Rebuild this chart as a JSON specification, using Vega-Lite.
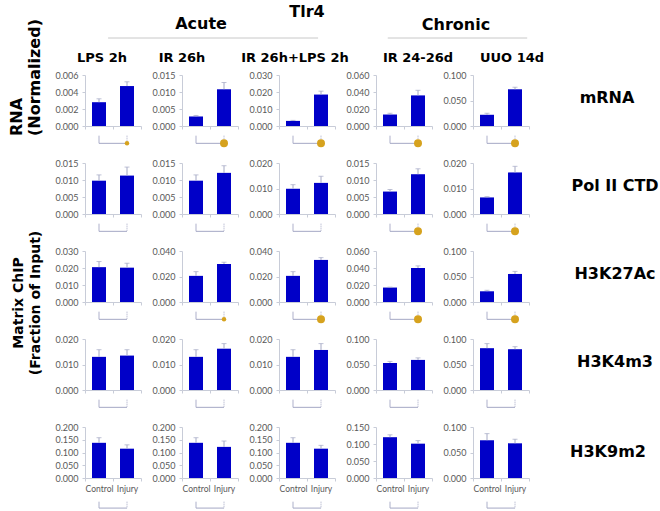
{
"$schema":"https://vega.github.io/schema/vega-lite/v6.json",
"padding":{"left":0,"top":4,"right":0,"bottom":0},
"columns":7,
"bounds":"flush",
"align":"each",
"spacing":{"row":37,"column":41},
"data":{"name":"d"},
"datasets":{"d":[
{"p":"11","g":"Control","v":0.0028,"e":0.0032,"s":0},{"p":"11","g":"Injury","v":0.0047,"e":0.0052,"s":1},
{"p":"12","g":"Control","v":0.0028,"e":0.0031,"s":0},{"p":"12","g":"Injury","v":0.0108,"e":0.0128,"s":2},
{"p":"13","g":"Control","v":0.003,"e":0.0033,"s":0},{"p":"13","g":"Injury","v":0.0185,"e":0.0205,"s":2},
{"p":"14","g":"Control","v":0.0135,"e":0.015,"s":0},{"p":"14","g":"Injury","v":0.036,"e":0.042,"s":2},
{"p":"15","g":"Control","v":0.022,"e":0.025,"s":0},{"p":"15","g":"Injury","v":0.072,"e":0.076,"s":2},
{"p":"21","g":"Control","v":0.0098,"e":0.0115,"s":0},{"p":"21","g":"Injury","v":0.0113,"e":0.0138,"s":0},
{"p":"22","g":"Control","v":0.0098,"e":0.0115,"s":0},{"p":"22","g":"Injury","v":0.0121,"e":0.0142,"s":0},
{"p":"23","g":"Control","v":0.0099,"e":0.0115,"s":0},{"p":"23","g":"Injury","v":0.0122,"e":0.0148,"s":0},
{"p":"24","g":"Control","v":0.0066,"e":0.0072,"s":0},{"p":"24","g":"Injury","v":0.0117,"e":0.0133,"s":2},
{"p":"25","g":"Control","v":0.0065,"e":0.0068,"s":0},{"p":"25","g":"Injury","v":0.0163,"e":0.0187,"s":2},
{"p":"31","g":"Control","v":0.0205,"e":0.0238,"s":0},{"p":"31","g":"Injury","v":0.0202,"e":0.0228,"s":0},
{"p":"32","g":"Control","v":0.0205,"e":0.0238,"s":0},{"p":"32","g":"Injury","v":0.0298,"e":0.0312,"s":1},
{"p":"33","g":"Control","v":0.0205,"e":0.0238,"s":0},{"p":"33","g":"Injury","v":0.033,"e":0.0348,"s":2},
{"p":"34","g":"Control","v":0.017,"e":0.0175,"s":0},{"p":"34","g":"Injury","v":0.04,"e":0.0425,"s":2},
{"p":"35","g":"Control","v":0.021,"e":0.023,"s":0},{"p":"35","g":"Injury","v":0.055,"e":0.06,"s":2},
{"p":"41","g":"Control","v":0.013,"e":0.0158,"s":0},{"p":"41","g":"Injury","v":0.0135,"e":0.0158,"s":0},
{"p":"42","g":"Control","v":0.013,"e":0.0158,"s":0},{"p":"42","g":"Injury","v":0.0162,"e":0.0182,"s":0},
{"p":"43","g":"Control","v":0.013,"e":0.0158,"s":0},{"p":"43","g":"Injury","v":0.0157,"e":0.0182,"s":0},
{"p":"44","g":"Control","v":0.053,"e":0.056,"s":0},{"p":"44","g":"Injury","v":0.059,"e":0.063,"s":0},
{"p":"45","g":"Control","v":0.082,"e":0.091,"s":0},{"p":"45","g":"Injury","v":0.08,"e":0.085,"s":0},
{"p":"51","g":"Control","v":0.138,"e":0.158,"s":0},{"p":"51","g":"Injury","v":0.115,"e":0.13,"s":0},
{"p":"52","g":"Control","v":0.138,"e":0.158,"s":0},{"p":"52","g":"Injury","v":0.122,"e":0.145,"s":0},
{"p":"53","g":"Control","v":0.138,"e":0.158,"s":0},{"p":"53","g":"Injury","v":0.115,"e":0.128,"s":0},
{"p":"54","g":"Control","v":0.12,"e":0.127,"s":0},{"p":"54","g":"Injury","v":0.101,"e":0.11,"s":0},
{"p":"55","g":"Control","v":0.074,"e":0.087,"s":0},{"p":"55","g":"Injury","v":0.068,"e":0.076,"s":0}
]},
"concat":[
{"width":44,"height":1,"data":{"values":[]},"mark":"point","encoding":{}},
{"width":56,"height":1,"data":{"values":[]},"mark":"point","encoding":{}},
{"width":56,"height":1,"title":{"text":"Acute","fontSize":16,"dx":-9,"offset":5},"data":{"values":[{"k":0}]},"mark":{"type":"rule","color":"#c8c8c8"},"encoding":{"x":{"datum":-1.32,"type":"quantitative","scale":{"domain":[0,1]},"axis":null},"x2":{"datum":2.43},"y":{"datum":0,"type":"quantitative","scale":{"domain":[0,1]},"axis":null}}},
{"width":56,"height":1,"title":{"text":"Tlr4","fontSize":16,"offset":17},"data":{"values":[]},"mark":"point","encoding":{}},
{"width":56,"height":1,"title":{"text":"Chronic","fontSize":16,"dx":52,"offset":4},"data":{"values":[{"k":0}]},"mark":{"type":"rule","color":"#c8c8c8"},"encoding":{"x":{"datum":0.21,"type":"quantitative","scale":{"domain":[0,1]},"axis":null},"x2":{"datum":2.7},"y":{"datum":0,"type":"quantitative","scale":{"domain":[0,1]},"axis":null}}},
{"width":56,"height":1,"data":{"values":[]},"mark":"point","encoding":{}},
{"width":90,"height":1,"data":{"values":[]},"mark":"point","encoding":{}},

{"width":44,"height":51,"data":{"values":[{"t":"RNA\n(Normalized)"}]},"mark":{"type":"text","font":"DejaVu Sans","fontWeight":"bold","fontSize":16,"angle":270,"align":"left","baseline":"middle","lineBreak":"\n","lineHeight":18,"dx":-35.5,"dy":-4.75},"encoding":{"text":{"field":"t"}}},
{"width":56,"height":51,"title":{"text":"LPS 2h","dx":-11},"transform":[{"filter":"datum.p=='11'"}],"encoding":{"x":{"field":"g","type":"nominal","title":null,"scale":{"paddingInner":0,"paddingOuter":0},"axis":{"labels":false}},"y":{"field":"v","type":"quantitative","title":null,"scale":{"domain":[0,0.006],"nice":false},"axis":{"values":[0,0.002,0.004,0.006],"format":".3f"}}},"layer":[{"mark":{"type":"bar","size":14}},{"mark":"rule","encoding":{"y2":{"field":"e"}}},{"mark":{"type":"tick","size":5,"thickness":1},"encoding":{"y":{"field":"e","type":"quantitative","title":null,"scale":{"domain":[0,0.006],"nice":false}}}},{"mark":"rule","encoding":{"y":{"datum":-0.00114,"type":"quantitative","title":null,"scale":{"domain":[0,0.006],"nice":false}},"y2":{"datum":-0.00204},"strokeDash":{"condition":{"test":"datum.g=='Injury'","value":[1,1]},"value":[1,0]}}},{"mark":"line","encoding":{"y":{"datum":-0.00204,"type":"quantitative","title":null,"scale":{"domain":[0,0.006],"nice":false}}}},{"mark":"point","transform":[{"filter":"datum.s>0"}],"encoding":{"y":{"datum":-0.00204,"type":"quantitative","title":null,"scale":{"domain":[0,0.006],"nice":false}},"size":{"field":"s","type":"quantitative","scale":{"domain":[1,2],"range":[20,64]},"legend":null}}}]},
{"width":56,"height":51,"title":{"text":"IR 26h","dx":-28},"transform":[{"filter":"datum.p=='12'"}],"encoding":{"x":{"field":"g","type":"nominal","title":null,"scale":{"paddingInner":0,"paddingOuter":0},"axis":{"labels":false}},"y":{"field":"v","type":"quantitative","title":null,"scale":{"domain":[0,0.015],"nice":false},"axis":{"values":[0,0.005,0.01,0.015],"format":".3f"}}},"layer":[{"mark":{"type":"bar","size":14}},{"mark":"rule","encoding":{"y2":{"field":"e"}}},{"mark":{"type":"tick","size":5,"thickness":1},"encoding":{"y":{"field":"e","type":"quantitative","title":null,"scale":{"domain":[0,0.015],"nice":false}}}},{"mark":"rule","encoding":{"y":{"datum":-0.00285,"type":"quantitative","title":null,"scale":{"domain":[0,0.015],"nice":false}},"y2":{"datum":-0.0051},"strokeDash":{"condition":{"test":"datum.g=='Injury'","value":[1,1]},"value":[1,0]}}},{"mark":"line","encoding":{"y":{"datum":-0.0051,"type":"quantitative","title":null,"scale":{"domain":[0,0.015],"nice":false}}}},{"mark":"point","transform":[{"filter":"datum.s>0"}],"encoding":{"y":{"datum":-0.0051,"type":"quantitative","title":null,"scale":{"domain":[0,0.015],"nice":false}},"size":{"field":"s","type":"quantitative","scale":{"domain":[1,2],"range":[20,64]},"legend":null}}}]},
{"width":56,"height":51,"title":{"text":"IR 26h+LPS 2h","dx":-12},"transform":[{"filter":"datum.p=='13'"}],"encoding":{"x":{"field":"g","type":"nominal","title":null,"scale":{"paddingInner":0,"paddingOuter":0},"axis":{"labels":false}},"y":{"field":"v","type":"quantitative","title":null,"scale":{"domain":[0,0.03],"nice":false},"axis":{"values":[0,0.01,0.02,0.03],"format":".3f"}}},"layer":[{"mark":{"type":"bar","size":14}},{"mark":"rule","encoding":{"y2":{"field":"e"}}},{"mark":{"type":"tick","size":5,"thickness":1},"encoding":{"y":{"field":"e","type":"quantitative","title":null,"scale":{"domain":[0,0.03],"nice":false}}}},{"mark":"rule","encoding":{"y":{"datum":-0.0057,"type":"quantitative","title":null,"scale":{"domain":[0,0.03],"nice":false}},"y2":{"datum":-0.0102},"strokeDash":{"condition":{"test":"datum.g=='Injury'","value":[1,1]},"value":[1,0]}}},{"mark":"line","encoding":{"y":{"datum":-0.0102,"type":"quantitative","title":null,"scale":{"domain":[0,0.03],"nice":false}}}},{"mark":"point","transform":[{"filter":"datum.s>0"}],"encoding":{"y":{"datum":-0.0102,"type":"quantitative","title":null,"scale":{"domain":[0,0.03],"nice":false}},"size":{"field":"s","type":"quantitative","scale":{"domain":[1,2],"range":[20,64]},"legend":null}}}]},
{"width":56,"height":51,"title":{"text":"IR 24-26d","dx":14},"transform":[{"filter":"datum.p=='14'"}],"encoding":{"x":{"field":"g","type":"nominal","title":null,"scale":{"paddingInner":0,"paddingOuter":0},"axis":{"labels":false}},"y":{"field":"v","type":"quantitative","title":null,"scale":{"domain":[0,0.06],"nice":false},"axis":{"values":[0,0.02,0.04,0.06],"format":".3f"}}},"layer":[{"mark":{"type":"bar","size":14}},{"mark":"rule","encoding":{"y2":{"field":"e"}}},{"mark":{"type":"tick","size":5,"thickness":1},"encoding":{"y":{"field":"e","type":"quantitative","title":null,"scale":{"domain":[0,0.06],"nice":false}}}},{"mark":"rule","encoding":{"y":{"datum":-0.0114,"type":"quantitative","title":null,"scale":{"domain":[0,0.06],"nice":false}},"y2":{"datum":-0.0204},"strokeDash":{"condition":{"test":"datum.g=='Injury'","value":[1,1]},"value":[1,0]}}},{"mark":"line","encoding":{"y":{"datum":-0.0204,"type":"quantitative","title":null,"scale":{"domain":[0,0.06],"nice":false}}}},{"mark":"point","transform":[{"filter":"datum.s>0"}],"encoding":{"y":{"datum":-0.0204,"type":"quantitative","title":null,"scale":{"domain":[0,0.06],"nice":false}},"size":{"field":"s","type":"quantitative","scale":{"domain":[1,2],"range":[20,64]},"legend":null}}}]},
{"width":56,"height":51,"title":{"text":"UUO 14d","dx":11},"transform":[{"filter":"datum.p=='15'"}],"encoding":{"x":{"field":"g","type":"nominal","title":null,"scale":{"paddingInner":0,"paddingOuter":0},"axis":{"labels":false}},"y":{"field":"v","type":"quantitative","title":null,"scale":{"domain":[0,0.1],"nice":false},"axis":{"values":[0,0.05,0.1],"format":".3f"}}},"layer":[{"mark":{"type":"bar","size":14}},{"mark":"rule","encoding":{"y2":{"field":"e"}}},{"mark":{"type":"tick","size":5,"thickness":1},"encoding":{"y":{"field":"e","type":"quantitative","title":null,"scale":{"domain":[0,0.1],"nice":false}}}},{"mark":"rule","encoding":{"y":{"datum":-0.019,"type":"quantitative","title":null,"scale":{"domain":[0,0.1],"nice":false}},"y2":{"datum":-0.034},"strokeDash":{"condition":{"test":"datum.g=='Injury'","value":[1,1]},"value":[1,0]}}},{"mark":"line","encoding":{"y":{"datum":-0.034,"type":"quantitative","title":null,"scale":{"domain":[0,0.1],"nice":false}}}},{"mark":"point","transform":[{"filter":"datum.s>0"}],"encoding":{"y":{"datum":-0.034,"type":"quantitative","title":null,"scale":{"domain":[0,0.1],"nice":false}},"size":{"field":"s","type":"quantitative","scale":{"domain":[1,2],"range":[20,64]},"legend":null}}}]},
{"width":90,"height":51,"data":{"values":[{"t":"mRNA"}]},"mark":{"type":"text","font":"DejaVu Sans","fontWeight":"bold","fontSize":16,"align":"center","baseline":"middle","dx":-8,"dy":-3},"encoding":{"text":{"field":"t"}}},

{"width":44,"height":51,"data":{"values":[]},"mark":"point","encoding":{}},
{"width":56,"height":51,"transform":[{"filter":"datum.p=='21'"}],"encoding":{"x":{"field":"g","type":"nominal","title":null,"scale":{"paddingInner":0,"paddingOuter":0},"axis":{"labels":false}},"y":{"field":"v","type":"quantitative","title":null,"scale":{"domain":[0,0.015],"nice":false},"axis":{"values":[0,0.005,0.01,0.015],"format":".3f"}}},"layer":[{"mark":{"type":"bar","size":14}},{"mark":"rule","encoding":{"y2":{"field":"e"}}},{"mark":{"type":"tick","size":5,"thickness":1},"encoding":{"y":{"field":"e","type":"quantitative","title":null,"scale":{"domain":[0,0.015],"nice":false}}}},{"mark":"rule","encoding":{"y":{"datum":-0.00285,"type":"quantitative","title":null,"scale":{"domain":[0,0.015],"nice":false}},"y2":{"datum":-0.0051},"strokeDash":{"condition":{"test":"datum.g=='Injury'","value":[1,1]},"value":[1,0]}}},{"mark":"line","encoding":{"y":{"datum":-0.0051,"type":"quantitative","title":null,"scale":{"domain":[0,0.015],"nice":false}}}}]},
{"width":56,"height":51,"transform":[{"filter":"datum.p=='22'"}],"encoding":{"x":{"field":"g","type":"nominal","title":null,"scale":{"paddingInner":0,"paddingOuter":0},"axis":{"labels":false}},"y":{"field":"v","type":"quantitative","title":null,"scale":{"domain":[0,0.015],"nice":false},"axis":{"values":[0,0.005,0.01,0.015],"format":".3f"}}},"layer":[{"mark":{"type":"bar","size":14}},{"mark":"rule","encoding":{"y2":{"field":"e"}}},{"mark":{"type":"tick","size":5,"thickness":1},"encoding":{"y":{"field":"e","type":"quantitative","title":null,"scale":{"domain":[0,0.015],"nice":false}}}},{"mark":"rule","encoding":{"y":{"datum":-0.00285,"type":"quantitative","title":null,"scale":{"domain":[0,0.015],"nice":false}},"y2":{"datum":-0.0051},"strokeDash":{"condition":{"test":"datum.g=='Injury'","value":[1,1]},"value":[1,0]}}},{"mark":"line","encoding":{"y":{"datum":-0.0051,"type":"quantitative","title":null,"scale":{"domain":[0,0.015],"nice":false}}}}]},
{"width":56,"height":51,"transform":[{"filter":"datum.p=='23'"}],"encoding":{"x":{"field":"g","type":"nominal","title":null,"scale":{"paddingInner":0,"paddingOuter":0},"axis":{"labels":false}},"y":{"field":"v","type":"quantitative","title":null,"scale":{"domain":[0,0.02],"nice":false},"axis":{"values":[0,0.01,0.02],"format":".3f"}}},"layer":[{"mark":{"type":"bar","size":14}},{"mark":"rule","encoding":{"y2":{"field":"e"}}},{"mark":{"type":"tick","size":5,"thickness":1},"encoding":{"y":{"field":"e","type":"quantitative","title":null,"scale":{"domain":[0,0.02],"nice":false}}}},{"mark":"rule","encoding":{"y":{"datum":-0.0038,"type":"quantitative","title":null,"scale":{"domain":[0,0.02],"nice":false}},"y2":{"datum":-0.0068},"strokeDash":{"condition":{"test":"datum.g=='Injury'","value":[1,1]},"value":[1,0]}}},{"mark":"line","encoding":{"y":{"datum":-0.0068,"type":"quantitative","title":null,"scale":{"domain":[0,0.02],"nice":false}}}}]},
{"width":56,"height":51,"transform":[{"filter":"datum.p=='24'"}],"encoding":{"x":{"field":"g","type":"nominal","title":null,"scale":{"paddingInner":0,"paddingOuter":0},"axis":{"labels":false}},"y":{"field":"v","type":"quantitative","title":null,"scale":{"domain":[0,0.015],"nice":false},"axis":{"values":[0,0.005,0.01,0.015],"format":".3f"}}},"layer":[{"mark":{"type":"bar","size":14}},{"mark":"rule","encoding":{"y2":{"field":"e"}}},{"mark":{"type":"tick","size":5,"thickness":1},"encoding":{"y":{"field":"e","type":"quantitative","title":null,"scale":{"domain":[0,0.015],"nice":false}}}},{"mark":"rule","encoding":{"y":{"datum":-0.00285,"type":"quantitative","title":null,"scale":{"domain":[0,0.015],"nice":false}},"y2":{"datum":-0.0051},"strokeDash":{"condition":{"test":"datum.g=='Injury'","value":[1,1]},"value":[1,0]}}},{"mark":"line","encoding":{"y":{"datum":-0.0051,"type":"quantitative","title":null,"scale":{"domain":[0,0.015],"nice":false}}}},{"mark":"point","transform":[{"filter":"datum.s>0"}],"encoding":{"y":{"datum":-0.0051,"type":"quantitative","title":null,"scale":{"domain":[0,0.015],"nice":false}},"size":{"field":"s","type":"quantitative","scale":{"domain":[1,2],"range":[20,64]},"legend":null}}}]},
{"width":56,"height":51,"transform":[{"filter":"datum.p=='25'"}],"encoding":{"x":{"field":"g","type":"nominal","title":null,"scale":{"paddingInner":0,"paddingOuter":0},"axis":{"labels":false}},"y":{"field":"v","type":"quantitative","title":null,"scale":{"domain":[0,0.02],"nice":false},"axis":{"values":[0,0.01,0.02],"format":".3f"}}},"layer":[{"mark":{"type":"bar","size":14}},{"mark":"rule","encoding":{"y2":{"field":"e"}}},{"mark":{"type":"tick","size":5,"thickness":1},"encoding":{"y":{"field":"e","type":"quantitative","title":null,"scale":{"domain":[0,0.02],"nice":false}}}},{"mark":"rule","encoding":{"y":{"datum":-0.0038,"type":"quantitative","title":null,"scale":{"domain":[0,0.02],"nice":false}},"y2":{"datum":-0.0068},"strokeDash":{"condition":{"test":"datum.g=='Injury'","value":[1,1]},"value":[1,0]}}},{"mark":"line","encoding":{"y":{"datum":-0.0068,"type":"quantitative","title":null,"scale":{"domain":[0,0.02],"nice":false}}}},{"mark":"point","transform":[{"filter":"datum.s>0"}],"encoding":{"y":{"datum":-0.0068,"type":"quantitative","title":null,"scale":{"domain":[0,0.02],"nice":false}},"size":{"field":"s","type":"quantitative","scale":{"domain":[1,2],"range":[20,64]},"legend":null}}}]},
{"width":90,"height":51,"data":{"values":[{"t":"Pol II CTD"}]},"mark":{"type":"text","font":"DejaVu Sans","fontWeight":"bold","fontSize":16,"align":"center","baseline":"middle","dy":-3},"encoding":{"text":{"field":"t"}}},

{"width":44,"height":51,"data":{"values":[{"t":"Matrix ChIP\n(Fraction of Input)"}]},"mark":{"type":"text","font":"DejaVu Sans","fontWeight":"bold","fontSize":14,"angle":270,"align":"center","baseline":"middle","lineBreak":"\n","lineHeight":16.5,"dx":-26.5,"dy":-2.75},"encoding":{"text":{"field":"t"}}},
{"width":56,"height":51,"transform":[{"filter":"datum.p=='31'"}],"encoding":{"x":{"field":"g","type":"nominal","title":null,"scale":{"paddingInner":0,"paddingOuter":0},"axis":{"labels":false}},"y":{"field":"v","type":"quantitative","title":null,"scale":{"domain":[0,0.03],"nice":false},"axis":{"values":[0,0.01,0.02,0.03],"format":".3f"}}},"layer":[{"mark":{"type":"bar","size":14}},{"mark":"rule","encoding":{"y2":{"field":"e"}}},{"mark":{"type":"tick","size":5,"thickness":1},"encoding":{"y":{"field":"e","type":"quantitative","title":null,"scale":{"domain":[0,0.03],"nice":false}}}},{"mark":"rule","encoding":{"y":{"datum":-0.0057,"type":"quantitative","title":null,"scale":{"domain":[0,0.03],"nice":false}},"y2":{"datum":-0.0102},"strokeDash":{"condition":{"test":"datum.g=='Injury'","value":[1,1]},"value":[1,0]}}},{"mark":"line","encoding":{"y":{"datum":-0.0102,"type":"quantitative","title":null,"scale":{"domain":[0,0.03],"nice":false}}}}]},
{"width":56,"height":51,"transform":[{"filter":"datum.p=='32'"}],"encoding":{"x":{"field":"g","type":"nominal","title":null,"scale":{"paddingInner":0,"paddingOuter":0},"axis":{"labels":false}},"y":{"field":"v","type":"quantitative","title":null,"scale":{"domain":[0,0.04],"nice":false},"axis":{"values":[0,0.02,0.04],"format":".3f"}}},"layer":[{"mark":{"type":"bar","size":14}},{"mark":"rule","encoding":{"y2":{"field":"e"}}},{"mark":{"type":"tick","size":5,"thickness":1},"encoding":{"y":{"field":"e","type":"quantitative","title":null,"scale":{"domain":[0,0.04],"nice":false}}}},{"mark":"rule","encoding":{"y":{"datum":-0.0076,"type":"quantitative","title":null,"scale":{"domain":[0,0.04],"nice":false}},"y2":{"datum":-0.0136},"strokeDash":{"condition":{"test":"datum.g=='Injury'","value":[1,1]},"value":[1,0]}}},{"mark":"line","encoding":{"y":{"datum":-0.0136,"type":"quantitative","title":null,"scale":{"domain":[0,0.04],"nice":false}}}},{"mark":"point","transform":[{"filter":"datum.s>0"}],"encoding":{"y":{"datum":-0.0136,"type":"quantitative","title":null,"scale":{"domain":[0,0.04],"nice":false}},"size":{"field":"s","type":"quantitative","scale":{"domain":[1,2],"range":[20,64]},"legend":null}}}]},
{"width":56,"height":51,"transform":[{"filter":"datum.p=='33'"}],"encoding":{"x":{"field":"g","type":"nominal","title":null,"scale":{"paddingInner":0,"paddingOuter":0},"axis":{"labels":false}},"y":{"field":"v","type":"quantitative","title":null,"scale":{"domain":[0,0.04],"nice":false},"axis":{"values":[0,0.02,0.04],"format":".3f"}}},"layer":[{"mark":{"type":"bar","size":14}},{"mark":"rule","encoding":{"y2":{"field":"e"}}},{"mark":{"type":"tick","size":5,"thickness":1},"encoding":{"y":{"field":"e","type":"quantitative","title":null,"scale":{"domain":[0,0.04],"nice":false}}}},{"mark":"rule","encoding":{"y":{"datum":-0.0076,"type":"quantitative","title":null,"scale":{"domain":[0,0.04],"nice":false}},"y2":{"datum":-0.0136},"strokeDash":{"condition":{"test":"datum.g=='Injury'","value":[1,1]},"value":[1,0]}}},{"mark":"line","encoding":{"y":{"datum":-0.0136,"type":"quantitative","title":null,"scale":{"domain":[0,0.04],"nice":false}}}},{"mark":"point","transform":[{"filter":"datum.s>0"}],"encoding":{"y":{"datum":-0.0136,"type":"quantitative","title":null,"scale":{"domain":[0,0.04],"nice":false}},"size":{"field":"s","type":"quantitative","scale":{"domain":[1,2],"range":[20,64]},"legend":null}}}]},
{"width":56,"height":51,"transform":[{"filter":"datum.p=='34'"}],"encoding":{"x":{"field":"g","type":"nominal","title":null,"scale":{"paddingInner":0,"paddingOuter":0},"axis":{"labels":false}},"y":{"field":"v","type":"quantitative","title":null,"scale":{"domain":[0,0.06],"nice":false},"axis":{"values":[0,0.02,0.04,0.06],"format":".3f"}}},"layer":[{"mark":{"type":"bar","size":14}},{"mark":"rule","encoding":{"y2":{"field":"e"}}},{"mark":{"type":"tick","size":5,"thickness":1},"encoding":{"y":{"field":"e","type":"quantitative","title":null,"scale":{"domain":[0,0.06],"nice":false}}}},{"mark":"rule","encoding":{"y":{"datum":-0.0114,"type":"quantitative","title":null,"scale":{"domain":[0,0.06],"nice":false}},"y2":{"datum":-0.0204},"strokeDash":{"condition":{"test":"datum.g=='Injury'","value":[1,1]},"value":[1,0]}}},{"mark":"line","encoding":{"y":{"datum":-0.0204,"type":"quantitative","title":null,"scale":{"domain":[0,0.06],"nice":false}}}},{"mark":"point","transform":[{"filter":"datum.s>0"}],"encoding":{"y":{"datum":-0.0204,"type":"quantitative","title":null,"scale":{"domain":[0,0.06],"nice":false}},"size":{"field":"s","type":"quantitative","scale":{"domain":[1,2],"range":[20,64]},"legend":null}}}]},
{"width":56,"height":51,"transform":[{"filter":"datum.p=='35'"}],"encoding":{"x":{"field":"g","type":"nominal","title":null,"scale":{"paddingInner":0,"paddingOuter":0},"axis":{"labels":false}},"y":{"field":"v","type":"quantitative","title":null,"scale":{"domain":[0,0.1],"nice":false},"axis":{"values":[0,0.05,0.1],"format":".3f"}}},"layer":[{"mark":{"type":"bar","size":14}},{"mark":"rule","encoding":{"y2":{"field":"e"}}},{"mark":{"type":"tick","size":5,"thickness":1},"encoding":{"y":{"field":"e","type":"quantitative","title":null,"scale":{"domain":[0,0.1],"nice":false}}}},{"mark":"rule","encoding":{"y":{"datum":-0.019,"type":"quantitative","title":null,"scale":{"domain":[0,0.1],"nice":false}},"y2":{"datum":-0.034},"strokeDash":{"condition":{"test":"datum.g=='Injury'","value":[1,1]},"value":[1,0]}}},{"mark":"line","encoding":{"y":{"datum":-0.034,"type":"quantitative","title":null,"scale":{"domain":[0,0.1],"nice":false}}}},{"mark":"point","transform":[{"filter":"datum.s>0"}],"encoding":{"y":{"datum":-0.034,"type":"quantitative","title":null,"scale":{"domain":[0,0.1],"nice":false}},"size":{"field":"s","type":"quantitative","scale":{"domain":[1,2],"range":[20,64]},"legend":null}}}]},
{"width":90,"height":51,"data":{"values":[{"t":"H3K27Ac"}]},"mark":{"type":"text","font":"DejaVu Sans","fontWeight":"bold","fontSize":16,"align":"center","baseline":"middle","dy":-3},"encoding":{"text":{"field":"t"}}},

{"width":44,"height":51,"data":{"values":[]},"mark":"point","encoding":{}},
{"width":56,"height":51,"transform":[{"filter":"datum.p=='41'"}],"encoding":{"x":{"field":"g","type":"nominal","title":null,"scale":{"paddingInner":0,"paddingOuter":0},"axis":{"labels":false}},"y":{"field":"v","type":"quantitative","title":null,"scale":{"domain":[0,0.02],"nice":false},"axis":{"values":[0,0.01,0.02],"format":".3f"}}},"layer":[{"mark":{"type":"bar","size":14}},{"mark":"rule","encoding":{"y2":{"field":"e"}}},{"mark":{"type":"tick","size":5,"thickness":1},"encoding":{"y":{"field":"e","type":"quantitative","title":null,"scale":{"domain":[0,0.02],"nice":false}}}},{"mark":"rule","encoding":{"y":{"datum":-0.0038,"type":"quantitative","title":null,"scale":{"domain":[0,0.02],"nice":false}},"y2":{"datum":-0.0068},"strokeDash":{"condition":{"test":"datum.g=='Injury'","value":[1,1]},"value":[1,0]}}},{"mark":"line","encoding":{"y":{"datum":-0.0068,"type":"quantitative","title":null,"scale":{"domain":[0,0.02],"nice":false}}}}]},
{"width":56,"height":51,"transform":[{"filter":"datum.p=='42'"}],"encoding":{"x":{"field":"g","type":"nominal","title":null,"scale":{"paddingInner":0,"paddingOuter":0},"axis":{"labels":false}},"y":{"field":"v","type":"quantitative","title":null,"scale":{"domain":[0,0.02],"nice":false},"axis":{"values":[0,0.01,0.02],"format":".3f"}}},"layer":[{"mark":{"type":"bar","size":14}},{"mark":"rule","encoding":{"y2":{"field":"e"}}},{"mark":{"type":"tick","size":5,"thickness":1},"encoding":{"y":{"field":"e","type":"quantitative","title":null,"scale":{"domain":[0,0.02],"nice":false}}}},{"mark":"rule","encoding":{"y":{"datum":-0.0038,"type":"quantitative","title":null,"scale":{"domain":[0,0.02],"nice":false}},"y2":{"datum":-0.0068},"strokeDash":{"condition":{"test":"datum.g=='Injury'","value":[1,1]},"value":[1,0]}}},{"mark":"line","encoding":{"y":{"datum":-0.0068,"type":"quantitative","title":null,"scale":{"domain":[0,0.02],"nice":false}}}}]},
{"width":56,"height":51,"transform":[{"filter":"datum.p=='43'"}],"encoding":{"x":{"field":"g","type":"nominal","title":null,"scale":{"paddingInner":0,"paddingOuter":0},"axis":{"labels":false}},"y":{"field":"v","type":"quantitative","title":null,"scale":{"domain":[0,0.02],"nice":false},"axis":{"values":[0,0.01,0.02],"format":".3f"}}},"layer":[{"mark":{"type":"bar","size":14}},{"mark":"rule","encoding":{"y2":{"field":"e"}}},{"mark":{"type":"tick","size":5,"thickness":1},"encoding":{"y":{"field":"e","type":"quantitative","title":null,"scale":{"domain":[0,0.02],"nice":false}}}},{"mark":"rule","encoding":{"y":{"datum":-0.0038,"type":"quantitative","title":null,"scale":{"domain":[0,0.02],"nice":false}},"y2":{"datum":-0.0068},"strokeDash":{"condition":{"test":"datum.g=='Injury'","value":[1,1]},"value":[1,0]}}},{"mark":"line","encoding":{"y":{"datum":-0.0068,"type":"quantitative","title":null,"scale":{"domain":[0,0.02],"nice":false}}}}]},
{"width":56,"height":51,"transform":[{"filter":"datum.p=='44'"}],"encoding":{"x":{"field":"g","type":"nominal","title":null,"scale":{"paddingInner":0,"paddingOuter":0},"axis":{"labels":false}},"y":{"field":"v","type":"quantitative","title":null,"scale":{"domain":[0,0.1],"nice":false},"axis":{"values":[0,0.05,0.1],"format":".3f"}}},"layer":[{"mark":{"type":"bar","size":14}},{"mark":"rule","encoding":{"y2":{"field":"e"}}},{"mark":{"type":"tick","size":5,"thickness":1},"encoding":{"y":{"field":"e","type":"quantitative","title":null,"scale":{"domain":[0,0.1],"nice":false}}}},{"mark":"rule","encoding":{"y":{"datum":-0.019,"type":"quantitative","title":null,"scale":{"domain":[0,0.1],"nice":false}},"y2":{"datum":-0.034},"strokeDash":{"condition":{"test":"datum.g=='Injury'","value":[1,1]},"value":[1,0]}}},{"mark":"line","encoding":{"y":{"datum":-0.034,"type":"quantitative","title":null,"scale":{"domain":[0,0.1],"nice":false}}}}]},
{"width":56,"height":51,"transform":[{"filter":"datum.p=='45'"}],"encoding":{"x":{"field":"g","type":"nominal","title":null,"scale":{"paddingInner":0,"paddingOuter":0},"axis":{"labels":false}},"y":{"field":"v","type":"quantitative","title":null,"scale":{"domain":[0,0.1],"nice":false},"axis":{"values":[0,0.05,0.1],"format":".3f"}}},"layer":[{"mark":{"type":"bar","size":14}},{"mark":"rule","encoding":{"y2":{"field":"e"}}},{"mark":{"type":"tick","size":5,"thickness":1},"encoding":{"y":{"field":"e","type":"quantitative","title":null,"scale":{"domain":[0,0.1],"nice":false}}}},{"mark":"rule","encoding":{"y":{"datum":-0.019,"type":"quantitative","title":null,"scale":{"domain":[0,0.1],"nice":false}},"y2":{"datum":-0.034},"strokeDash":{"condition":{"test":"datum.g=='Injury'","value":[1,1]},"value":[1,0]}}},{"mark":"line","encoding":{"y":{"datum":-0.034,"type":"quantitative","title":null,"scale":{"domain":[0,0.1],"nice":false}}}}]},
{"width":90,"height":51,"data":{"values":[{"t":"H3K4m3"}]},"mark":{"type":"text","font":"DejaVu Sans","fontWeight":"bold","fontSize":16,"align":"center","baseline":"middle","dy":-3},"encoding":{"text":{"field":"t"}}},

{"width":44,"height":51,"data":{"values":[]},"mark":"point","encoding":{}},
{"width":56,"height":51,"transform":[{"filter":"datum.p=='51'"}],"encoding":{"x":{"field":"g","type":"nominal","title":null,"scale":{"paddingInner":0,"paddingOuter":0},"axis":{"labels":true}},"y":{"field":"v","type":"quantitative","title":null,"scale":{"domain":[0,0.2],"nice":false},"axis":{"values":[0,0.05,0.1,0.15,0.2],"format":".3f"}}},"layer":[{"mark":{"type":"bar","size":14}},{"mark":"rule","encoding":{"y2":{"field":"e"}}},{"mark":{"type":"tick","size":5,"thickness":1},"encoding":{"y":{"field":"e","type":"quantitative","title":null,"scale":{"domain":[0,0.2],"nice":false}}}},{"mark":"rule","encoding":{"y":{"datum":-0.093,"type":"quantitative","title":null,"scale":{"domain":[0,0.2],"nice":false}},"y2":{"datum":-0.118},"strokeDash":{"condition":{"test":"datum.g=='Injury'","value":[1,1]},"value":[1,0]}}},{"mark":"line","encoding":{"y":{"datum":-0.118,"type":"quantitative","title":null,"scale":{"domain":[0,0.2],"nice":false}}}}]},
{"width":56,"height":51,"transform":[{"filter":"datum.p=='52'"}],"encoding":{"x":{"field":"g","type":"nominal","title":null,"scale":{"paddingInner":0,"paddingOuter":0},"axis":{"labels":true}},"y":{"field":"v","type":"quantitative","title":null,"scale":{"domain":[0,0.2],"nice":false},"axis":{"values":[0,0.05,0.1,0.15,0.2],"format":".3f"}}},"layer":[{"mark":{"type":"bar","size":14}},{"mark":"rule","encoding":{"y2":{"field":"e"}}},{"mark":{"type":"tick","size":5,"thickness":1},"encoding":{"y":{"field":"e","type":"quantitative","title":null,"scale":{"domain":[0,0.2],"nice":false}}}},{"mark":"rule","encoding":{"y":{"datum":-0.093,"type":"quantitative","title":null,"scale":{"domain":[0,0.2],"nice":false}},"y2":{"datum":-0.118},"strokeDash":{"condition":{"test":"datum.g=='Injury'","value":[1,1]},"value":[1,0]}}},{"mark":"line","encoding":{"y":{"datum":-0.118,"type":"quantitative","title":null,"scale":{"domain":[0,0.2],"nice":false}}}}]},
{"width":56,"height":51,"transform":[{"filter":"datum.p=='53'"}],"encoding":{"x":{"field":"g","type":"nominal","title":null,"scale":{"paddingInner":0,"paddingOuter":0},"axis":{"labels":true}},"y":{"field":"v","type":"quantitative","title":null,"scale":{"domain":[0,0.2],"nice":false},"axis":{"values":[0,0.05,0.1,0.15,0.2],"format":".3f"}}},"layer":[{"mark":{"type":"bar","size":14}},{"mark":"rule","encoding":{"y2":{"field":"e"}}},{"mark":{"type":"tick","size":5,"thickness":1},"encoding":{"y":{"field":"e","type":"quantitative","title":null,"scale":{"domain":[0,0.2],"nice":false}}}},{"mark":"rule","encoding":{"y":{"datum":-0.093,"type":"quantitative","title":null,"scale":{"domain":[0,0.2],"nice":false}},"y2":{"datum":-0.118},"strokeDash":{"condition":{"test":"datum.g=='Injury'","value":[1,1]},"value":[1,0]}}},{"mark":"line","encoding":{"y":{"datum":-0.118,"type":"quantitative","title":null,"scale":{"domain":[0,0.2],"nice":false}}}}]},
{"width":56,"height":51,"transform":[{"filter":"datum.p=='54'"}],"encoding":{"x":{"field":"g","type":"nominal","title":null,"scale":{"paddingInner":0,"paddingOuter":0},"axis":{"labels":true}},"y":{"field":"v","type":"quantitative","title":null,"scale":{"domain":[0,0.15],"nice":false},"axis":{"values":[0,0.05,0.1,0.15],"format":".3f"}}},"layer":[{"mark":{"type":"bar","size":14}},{"mark":"rule","encoding":{"y2":{"field":"e"}}},{"mark":{"type":"tick","size":5,"thickness":1},"encoding":{"y":{"field":"e","type":"quantitative","title":null,"scale":{"domain":[0,0.15],"nice":false}}}},{"mark":"rule","encoding":{"y":{"datum":-0.06975,"type":"quantitative","title":null,"scale":{"domain":[0,0.15],"nice":false}},"y2":{"datum":-0.0885},"strokeDash":{"condition":{"test":"datum.g=='Injury'","value":[1,1]},"value":[1,0]}}},{"mark":"line","encoding":{"y":{"datum":-0.0885,"type":"quantitative","title":null,"scale":{"domain":[0,0.15],"nice":false}}}}]},
{"width":56,"height":51,"transform":[{"filter":"datum.p=='55'"}],"encoding":{"x":{"field":"g","type":"nominal","title":null,"scale":{"paddingInner":0,"paddingOuter":0},"axis":{"labels":true}},"y":{"field":"v","type":"quantitative","title":null,"scale":{"domain":[0,0.1],"nice":false},"axis":{"values":[0,0.05,0.1],"format":".3f"}}},"layer":[{"mark":{"type":"bar","size":14}},{"mark":"rule","encoding":{"y2":{"field":"e"}}},{"mark":{"type":"tick","size":5,"thickness":1},"encoding":{"y":{"field":"e","type":"quantitative","title":null,"scale":{"domain":[0,0.1],"nice":false}}}},{"mark":"rule","encoding":{"y":{"datum":-0.0465,"type":"quantitative","title":null,"scale":{"domain":[0,0.1],"nice":false}},"y2":{"datum":-0.059},"strokeDash":{"condition":{"test":"datum.g=='Injury'","value":[1,1]},"value":[1,0]}}},{"mark":"line","encoding":{"y":{"datum":-0.059,"type":"quantitative","title":null,"scale":{"domain":[0,0.1],"nice":false}}}}]},
{"width":90,"height":51,"data":{"values":[{"t":"H3K9m2"}]},"mark":{"type":"text","font":"DejaVu Sans","fontWeight":"bold","fontSize":16,"align":"center","baseline":"middle","dx":-7,"dy":-1},"encoding":{"text":{"field":"t"}}}
],
"config":{
 "view":{"stroke":null},
 "font":"Lato",
 "bar":{"color":"#0000c8"},
 "rule":{"color":"#a4a8c4","strokeWidth":1},
 "line":{"color":"#a4a8c4","strokeWidth":1},
 "tick":{"color":"#a4a8c4"},
 "point":{"color":"#d6a21e","filled":true,"opacity":1},
 "axis":{"domainColor":"#c8ccd8","tickColor":"#c8ccd8","tickSize":3,"labelColor":"#595959","labelFont":"Lato","labelFontSize":9,"grid":false},
 "axisX":{"tickBand":"extent","labelAngle":0,"labelFontSize":8.5,"labelPadding":3},
 "axisY":{"labelPadding":4},
 "title":{"font":"DejaVu Sans","fontWeight":"bold","fontSize":13,"color":"#000","offset":6,"anchor":"middle","baseline":"alphabetic"}
}
}
